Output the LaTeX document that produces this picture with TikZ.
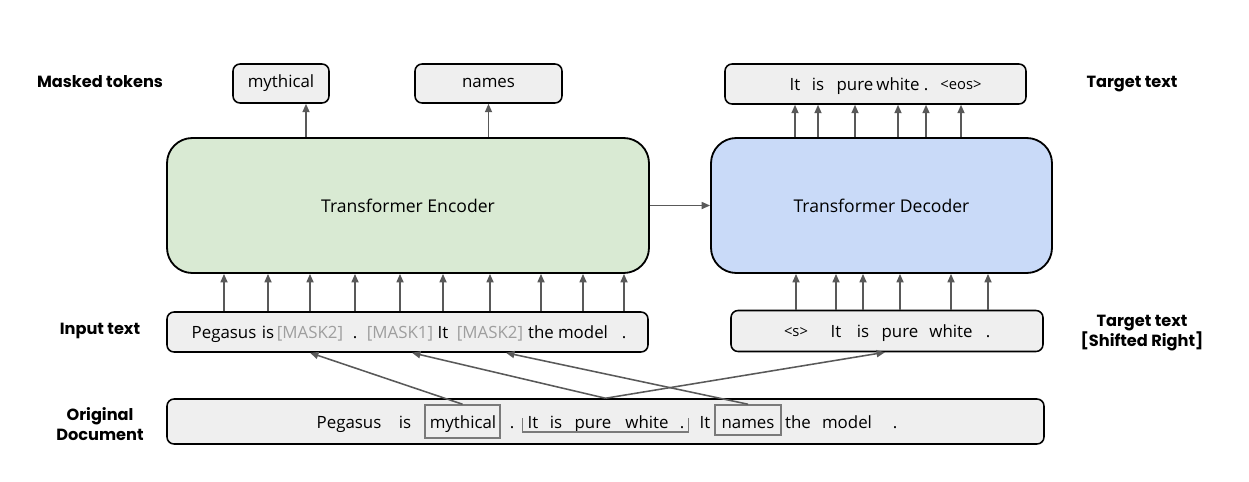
\documentclass[tikz,border=0pt]{standalone}
\usepackage{fontspec}
\usepackage{tikz}
\usetikzlibrary{arrows.meta}
\setmainfont{Open Sans}
\newfontfamily\labelfont{Poppins}

\newlength\pxu
\setlength\pxu{0.025cm}

\definecolor{boxgray}{HTML}{EFEFEF}
\definecolor{arrowgray}{HTML}{595959}
\definecolor{maskgray}{HTML}{9E9E9E}
\definecolor{encgreen}{HTML}{D9EAD3}
\definecolor{decblue}{HTML}{C9DAF8}

\newcommand\tokfont{\fontsize{12}{15}\selectfont}
\newcommand\smalltok{\fontsize{10.5}{12}\selectfont}

\begin{document}
\begin{tikzpicture}[x=0.025cm, y=-0.025cm,
  box/.style={draw=black, fill=boxgray, rounded corners=5pt, line width=1.1pt, inner sep=0pt, font=\tokfont, text height=0.75em, text depth=0.25em},
  bigbox/.style={draw=black, rounded corners=18pt, line width=1.3pt, inner sep=0pt, minimum width=#1, minimum height=135\pxu, font=\fontsize{12.5}{15}\selectfont},
  tok/.style={inner sep=0pt, anchor=base, font=\tokfont},
  innerbox/.style={draw=arrowgray!80, line width=1.1pt, inner sep=0pt},
  lab/.style={font=\labelfont\fontsize{11.5}{14.5}\selectfont\bfseries, align=center},
  arr/.style={draw=arrowgray, line width=1.1pt, -{Triangle[length=6pt,width=5pt]}}]

\useasboundingbox (0,0) rectangle (1249,481);

% Row labels
\node[lab] (lmasked) at (100,82) {Masked tokens};
\node[lab] (ltarget) at (1132,84) {Target text};
\node[lab] (linput) at (100,331) {Input text};
\node[lab] (lshifted) at (1142,333) {Target text\\{[Shifted Right]}};
\node[lab] (lorig) at (100,424) {Original\\Document};

% Output boxes
\node[box, minimum width=96\pxu, minimum height=39\pxu] (mythtop) at (281,83.5) {mythical};
\node[box, minimum width=147\pxu, minimum height=39\pxu] (namestop) at (488.5,83.5) {names};
\node[box, minimum width=301\pxu, minimum height=40\pxu] (tgt) at (875.5,84) {};

% Encoder and decoder
\node[bigbox=482\pxu, fill=encgreen] (enc) at (408,205.5) {Transformer Encoder};
\node[bigbox=341\pxu, fill=decblue] (dec) at (881.5,205.5) {Transformer Decoder};

% Input boxes
\node[box, minimum width=481\pxu, minimum height=40\pxu] (input) at (407.5,332) {};
\node[box, minimum width=312\pxu, minimum height=41\pxu] (shifted) at (887,331) {};
\node[box, minimum width=877\pxu, minimum height=45\pxu] (orig) at (605.5,421.5) {};

% Tokens of the input text
\foreach \x/\t/\c [count=\i] in {224/Pegasus/black, 268/is/black, 310/[MASK2]/maskgray,
    355/./black, 400/[MASK1]/maskgray, 443/It/black, 490/[MASK2]/maskgray,
    541/the/black, 583/model/black, 624/./black} {
    \node[tok, text=\c] (in\i) at (\x,338) {\t};
}

% Tokens of the target text
\foreach \x/\t [count=\i] in {795/It, 818/is, 855/pure, 898/white, 926/.} {
    \node[tok] (out\i) at (\x,90) {\t};
}
\node[tok, font=\smalltok] (out6) at (961,89) {<eos>};

% Tokens of the shifted target text
\node[tok, font=\smalltok] (sh1) at (796,336) {<s>};
\foreach \x/\t [count=\i from 2] in {836/It, 863/is, 900/pure, 951/white, 988/.} {
    \node[tok] (sh\i) at (\x,337) {\t};
}

% Tokens of the original document
\foreach \x/\t [count=\i] in {349/Pegasus, 405/is, 463/mythical, 512/., 533/It, 556/is,
    593/pure, 647/white, 682/., 705/It, 748/names, 798/the, 847/model, 895/.} {
    \node[tok] (d\i) at (\x,428) {\t};
}

% Masked spans in the original document
\node[innerbox, minimum width=75\pxu, minimum height=33\pxu] (mythdoc) at (462.5,421.5) {};
\node[innerbox, minimum width=66\pxu, minimum height=30\pxu] (namesdoc) at (748,420) {};
\node[inner sep=0pt, minimum width=165\pxu, minimum height=13\pxu] (sent) at (605.5,425) {};
\draw[arrowgray!80, line width=1.1pt] (sent.north west) -- (sent.south west) -- (sent.south east) -- (sent.north east);

% Arrows into the encoder and out of it
\foreach \i in {1,...,10} {
    \draw[arr] (in\i |- input.north) -- (in\i |- enc.south);
}
\draw[arr] ([xshift=25\pxu]mythtop.south |- enc.north) -- ([xshift=25\pxu]mythtop.south);
\draw[arr] (namestop |- enc.north) -- (namestop.south);
\draw[arr] (enc.east) -- (dec.west);

% Arrows into the decoder and out of it
\foreach \i in {1,...,6} {
    \draw[arr] (sh\i |- shifted.north) -- (sh\i |- dec.south);
    \draw[arr] (out\i |- dec.north) -- (out\i |- tgt.south);
}

% Arrows from the original document
\draw[arr] (mythdoc.north) -- (in3 |- input.south);
\draw[arr] (sent.north |- orig.north) -- ([xshift=12\pxu]in5 |- input.south);
\draw[arr] (namesdoc.north) -- ([xshift=16\pxu]in7 |- input.south);
\draw[arr] (sent.north |- orig.north) -- ([xshift=-15\pxu]sh4 |- shifted.south);

\end{tikzpicture}
\end{document}
